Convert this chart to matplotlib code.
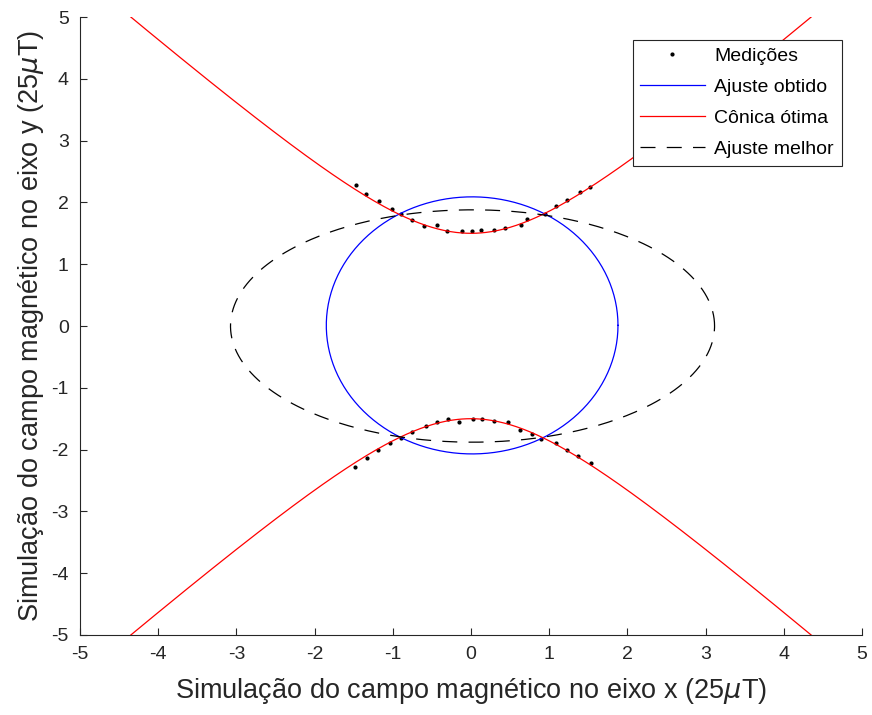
import numpy as np
import matplotlib.pyplot as plt

plt.rcParams['font.family'] = ['Liberation Sans', 'DejaVu Sans']
plt.rcParams['axes.unicode_minus'] = False

x_sup = [-1.47, -1.34, -1.17, -1.01, -0.89, -0.75, -0.60, -0.43, -0.31, -0.11, 0.01,
         0.13, 0.29, 0.44, 0.64, 0.72, 0.95, 1.09, 1.23, 1.39, 1.52]
y_sup = [2.28, 2.13, 2.02, 1.89, 1.82, 1.72, 1.62, 1.63, 1.53, 1.53, 1.53,
         1.55, 1.55, 1.58, 1.63, 1.73, 1.81, 1.94, 2.04, 2.17, 2.25]
x_inf = [-1.48, -1.33, -1.19, -1.04, -0.89, -0.75, -0.57, -0.44, -0.29, -0.15, 0.02,
         0.14, 0.29, 0.47, 0.63, 0.78, 0.89, 1.09, 1.23, 1.37, 1.53]
y_inf = [-2.28, -2.14, -2.01, -1.89, -1.82, -1.71, -1.62, -1.56, -1.51, -1.55, -1.51,
         -1.51, -1.53, -1.56, -1.68, -1.74, -1.83, -1.90, -2.00, -2.10, -2.21]

# Parâmetros das cônicas
hip_a, hip_b = 1.5, 1.368           # hipérbole y^2/a^2 - x^2/b^2 = 1
elip_obt = (0.015, 0.01, 1.865, 2.08)  # cx, cy, rx, ry
elip_mel = (0.02, 0.0, 3.095, 1.88)

t = np.linspace(0, 2 * np.pi, 400)
s = np.linspace(-2.2, 2.2, 400)

fig = plt.figure(figsize=(8.72, 7.15), dpi=100)
ax = fig.add_axes([0.0917, 0.1119, 0.8968, 0.8643])

ax.plot(x_sup + x_inf, y_sup + y_inf, 'k.', markersize=4, label='Medições')
cx, cy, rx, ry = elip_obt
ax.plot(cx + rx * np.cos(t), cy + ry * np.sin(t), color='#0000ff', lw=0.9,
        label='Ajuste obtido')
hx = hip_b * np.sinh(s)
hy = hip_a * np.cosh(s)
ax.plot(hx, hy, color='#ff0000', lw=0.9, label='Cônica ótima')
ax.plot(hx, -hy, color='#ff0000', lw=0.9)
cx, cy, rx, ry = elip_mel
ax.plot(cx + rx * np.cos(t), cy + ry * np.sin(t), color='k', lw=0.9,
        dashes=(12, 9), label='Ajuste melhor')

ax.set_xlim(-5, 5)
ax.set_ylim(-5, 5)
ax.set_xticks(range(-5, 6))
ax.set_yticks(range(-5, 6))
for sp in ['top', 'right']:
    ax.spines[sp].set_visible(False)
for sp in ['left', 'bottom']:
    ax.spines[sp].set_color('#262626')
ax.tick_params(direction='in', length=5, colors='#262626', labelsize=14, pad=8)
ax.set_xlabel('Simulação do campo magnético no eixo x (25$\\mu$T)', fontsize=19.5,
              color='#262626', labelpad=9)
ax.set_ylabel('Simulação do campo magnético no eixo y (25$\\mu$T)', fontsize=19.5,
              color='#262626', labelpad=4)

leg = ax.legend(loc='upper right', bbox_to_anchor=(0.974, 0.963), fontsize=14,
                fancybox=False, framealpha=1, edgecolor='#262626',
                handlelength=3.3, borderpad=0.4, labelspacing=0.68,
                handletextpad=0.5, borderaxespad=0)
leg.get_frame().set_linewidth(0.8)

fig.savefig('out.png', dpi=100)
